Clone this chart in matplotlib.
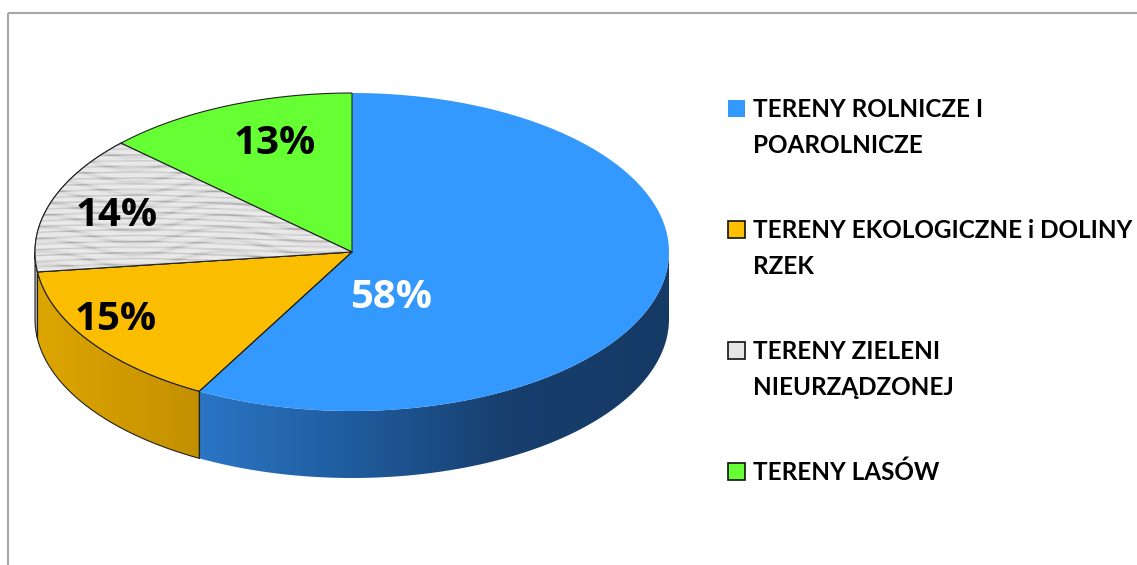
import numpy as np
import matplotlib
matplotlib.use("Agg")
import matplotlib.pyplot as plt
from matplotlib.patches import Polygon, Rectangle
from matplotlib.colors import LinearSegmentedColormap

# data
labels = [["TERENY ROLNICZE I", "POAROLNICZE"],
          ["TERENY EKOLOGICZNE i DOLINY", "RZEK"],
          ["TERENY ZIELENI", "NIEURZĄDZONEJ"],
          ["TERENY LASÓW"]]
shares = [58, 15, 14, 13]
pct_text = ["58%", "15%", "14%", "13%"]

# styles
top_colors = ["#3399ff", "#fabd00", "#e4e4e4", "#66ff33"]
legend_colors = ["#3399ff", "#ffc000", "#e6e6e6", "#66ff33"]
side_ramps = [["#2b75c5", "#1f5b9c", "#173e6c", "#163a66"],
              ["#dea600", "#d09a00", "#c39100"],
              ["#bdbdbd", "#a8a8a8"],
              ["#5ad42c", "#4cb826"]]
pct_colors = ["white", "black", "black", "black"]
pct_pos = [(391, 297), (116, 320), (117, 216), (275, 144)]

W, H = 1137, 565
fig = plt.figure(figsize=(W / 100, H / 100), dpi=100)
ax = fig.add_axes([0, 0, 1, 1])
ax.set_xlim(0, W)
ax.set_ylim(H, 0)
ax.axis("off")

# chart frame
ax.add_patch(Rectangle((8, 13), W, H, fill=False, edgecolor="#a6a6a6", lw=1.5))

# pie geometry (pixels)
cx, cy, rx, ry, depth = 352, 252, 317, 159, 67


def pt(theta, dy=0):
    t = np.radians(theta)
    return cx + rx * np.cos(t), cy - ry * np.sin(t) + dy


# slice angles, start at 12 o'clock, clockwise
total = float(sum(shares))
bounds = [90.0]
for s in shares:
    bounds.append(bounds[-1] - s / total * 360.0)

# side walls (front half only: angles between -180 and 0)
for i in range(len(shares)):
    hi = min(bounds[i], 0.0)
    lo = max(bounds[i + 1], -180.0)
    if hi <= lo:
        continue
    th = np.linspace(hi, lo, 120)
    top = [pt(t) for t in th]
    bot = [pt(t, depth) for t in th[::-1]]
    ec = "none" if i == 0 else "#222222"
    ax.add_patch(Polygon(top + bot, closed=True, facecolor="none",
                         edgecolor=ec, lw=0.8, zorder=3))
    xs = [p[0] for p in top]
    x0, x1 = min(xs), max(xs)
    y0 = min(p[1] for p in top)
    y1 = max(p[1] for p in bot)
    cmap = LinearSegmentedColormap.from_list("side%d" % i, side_ramps[i])
    grad = np.linspace(0, 1, 256)
    im = ax.imshow(grad[None, :], cmap=cmap, aspect="auto",
                   extent=(x0, x1, y1, y0), zorder=2, interpolation="bilinear")
    im.set_clip_path(Polygon(top + bot, closed=True, transform=ax.transData))

# top surface
for i in range(len(shares)):
    th = np.linspace(bounds[i], bounds[i + 1], 200)
    verts = [(cx, cy)] + [pt(t) for t in th]
    ec = "none" if i == 0 else "#222222"
    ax.add_patch(Polygon(verts, closed=True, facecolor=top_colors[i],
                         edgecolor=ec, lw=0.8, zorder=4))
    if i == 2:
        # marble-like horizontal streaks for the grey slice
        xs = np.linspace(0, 1, 400)
        ys = np.linspace(0, 1, 200)
        X, Y = np.meshgrid(xs, ys)
        tex = (0.55 * np.sin(Y * 70 + 1.5 * np.sin(X * 5)) ** 8
               + 0.35 * np.sin(Y * 33 + 2.0 * np.sin(X * 11 + 1.3)) ** 6
               + 0.2 * np.sin(Y * 120 + 0.8 * np.sin(X * 23)) ** 10)
        gmap = LinearSegmentedColormap.from_list(
            "marble", ["#ececec", "#dedede", "#c4c4c4", "#9e9e9e"])
        px = [v[0] for v in verts]
        py = [v[1] for v in verts]
        im = ax.imshow(tex, cmap=gmap, aspect="auto", vmin=0, vmax=1,
                       extent=(min(px), max(px), max(py), min(py)), zorder=4.5)
        im.set_clip_path(Polygon(verts, closed=True, transform=ax.transData))
        ax.add_patch(Polygon(verts, closed=True, facecolor="none",
                             edgecolor="#222222", lw=0.8, zorder=4.6))

# blue/yellow radial edge on top and its vertical edge on the side
bx, by = pt(bounds[1])
ax.plot([cx, bx], [cy, by], color="#222222", lw=0.8, zorder=4.7)
ax.plot([bx, bx], [by, by + depth], color="#222222", lw=0.8, zorder=4.7)

# percentage labels
for i in range(len(shares)):
    ax.text(pct_pos[i][0], pct_pos[i][1], pct_text[i], color=pct_colors[i],
            fontsize=29, fontweight="bold",
            family=["Open Sans", "DejaVu Sans"],
            ha="center", va="center", zorder=6)

# legend
leg_x, leg_y0, leg_step, sq, line_h = 728, 100, 121, 17, 36
for i, lab in enumerate(labels):
    y = leg_y0 + i * leg_step
    ec = "none" if i == 0 else "#111111"
    ax.add_patch(Rectangle((leg_x, y), sq, sq, facecolor=legend_colors[i],
                           edgecolor=ec, lw=1.2, zorder=6))
    for j, line in enumerate(lab):
        ax.text(leg_x + 25, y + sq + j * line_h, line, fontsize=17.5,
                fontweight="bold", family=["Lato", "DejaVu Sans"],
                ha="left", va="baseline", zorder=6)

fig.savefig("out.png", dpi=100)
